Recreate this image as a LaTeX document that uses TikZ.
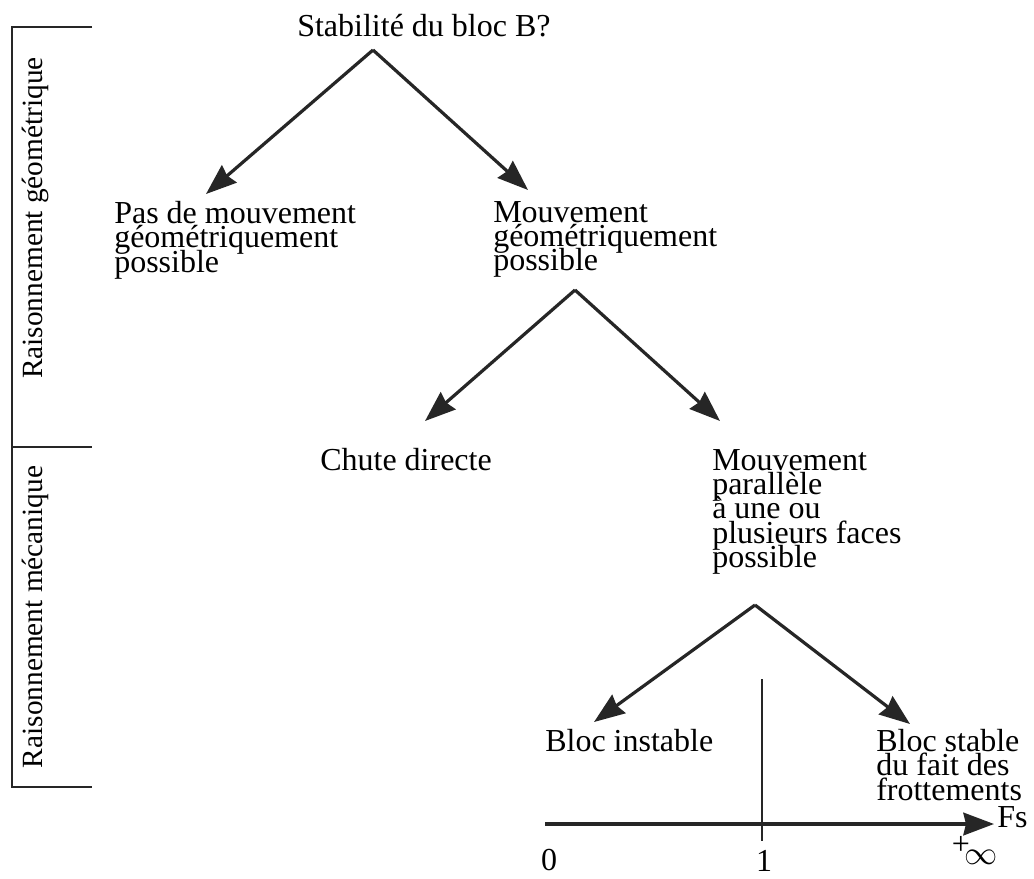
\documentclass[tikz,border=0pt]{standalone}
\usepackage{fontspec}
\setmainfont{Liberation Serif}
\usetikzlibrary{arrows.meta}
\definecolor{ink}{HTML}{262626}
\newcommand{\txtfont}{\fontsize{24}{18.2}\selectfont\lineskiplimit=-100pt\lineskip=0pt}
\begin{document}
\begin{tikzpicture}[x=0.75pt,y=-0.75pt,
  txt/.style={font=\txtfont, align=left, inner sep=0pt, anchor=north west},
  side/.style={font=\fontsize{22}{20}\selectfont, inner sep=0pt, rotate=90},
  arr/.style={draw=ink, line width=2.4pt, -{Stealth[length=23pt,width=17pt,inset=2pt]}},
  rule/.style={draw=ink, line width=2pt}]
\useasboundingbox (0,0) rectangle (1034,878);
\fill[white] (0,0) rectangle (1034,878);

% bracket
\coordinate (bt) at (12,27);
\coordinate (bm) at (12,447);
\coordinate (bb) at (12,787);
\coordinate (bte) at (92,27);
\coordinate (bme) at (92,447);
\coordinate (bbe) at (92,787);
\draw[rule] (bte) -- (bt) -- (bb) -- (bbe);
\draw[rule] (bm) -- (bme);
\node[side] (geo) at (35,218) {Raisonnement géométrique};
\node[side] (meca) at (35,617) {Raisonnement mécanique};

% nodes
\node[txt] (root) at (297,14) {Stabilité du bloc B?};
\node[txt] (pas) at (114,201) {Pas de mouvement\\géométriquement\\possible};
\node[txt] (mvt) at (493,201) {Mouvement\\géométriquement\\possible};
\node[txt] (chute) at (320,448) {Chute directe};
\node[txt] (par) at (712,449) {Mouvement\\parallèle\\à une ou\\plusieurs faces\\possible};
\node[txt] (inst) at (545,729) {Bloc instable};
\node[txt] (stab) at (876,729) {Bloc stable\\du fait des\\frottements};

% apexes and tips
\coordinate (a1) at (373,50);
\coordinate (t1l) at (206,194);
\coordinate (t1r) at (528,190);
\coordinate (a2) at (575,290);
\coordinate (t2l) at (425,421);
\coordinate (t2r) at (720,421);
\coordinate (a3) at (755,605);
\coordinate (t3l) at (594,722);
\coordinate (t3r) at (910,724);
\draw[arr] (a1) -- (t1l);
\draw[arr] (a1) -- (t1r);
\draw[arr] (a2) -- (t2l);
\draw[arr] (a2) -- (t2r);
\draw[arr] (a3) -- (t3l);
\draw[arr] (a3) -- (t3r);

% axis
\coordinate (ax0) at (545,824);
\coordinate (ax1) at (994,824);
\coordinate (vt) at (762,679);
\coordinate (vb) at (762,841);
\draw[arr] (ax0) -- (ax1);
\draw[rule] (vt) -- (vb);
\node[txt, anchor=west] (fs) at (997,817) {Fs};
\node[txt, anchor=center] (zero) at (549,860) {0};
\node[txt, anchor=center] (one) at (764,861) {1};
\node[txt, anchor=center] (plus) at (961,845) {+};
\node[txt, anchor=center] (inf) at (981,857) {$\infty$};
\end{tikzpicture}
\end{document}
